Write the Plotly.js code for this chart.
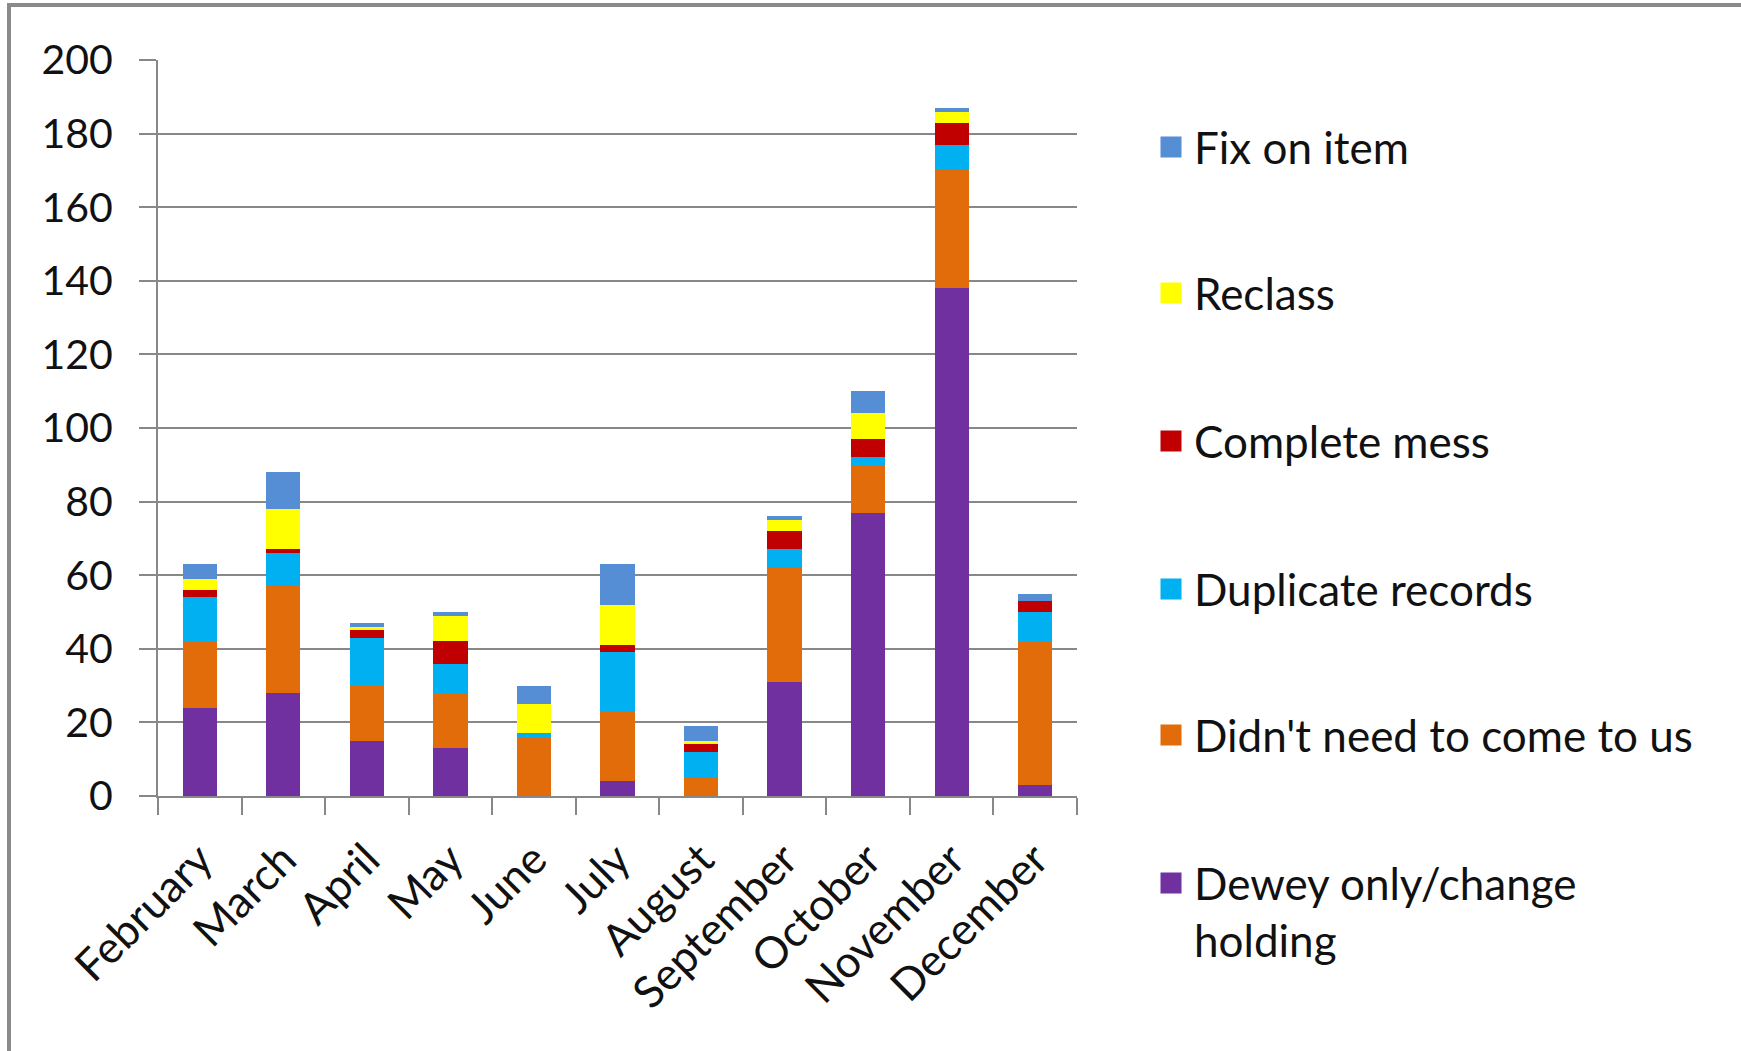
<!DOCTYPE html>
<html>
<head>
<meta charset="utf-8">
<script src="https://cdn.plot.ly/plotly-3.0.1.min.js"></script>
<style>
  html, body { margin: 0; padding: 0; background: #fff; }
  #wrap { position: relative; width: 1741px; height: 1051px; overflow: hidden; }
  #chart { position: absolute; left: 0; top: 0; width: 1741px; height: 1051px; }
  #frame { position: absolute; left: 7px; top: 3px; width: 1800px; height: 1100px;
           border-left: 4px solid #8a8a8a; border-top: 4px solid #8a8a8a; pointer-events: none; }
</style>
</head>
<body>
<div id="wrap">
  <div id="chart"></div>
  <div id="frame"></div>
</div>
<script>
const months = ["February", "March", "April", "May", "June", "July", "August", "September", "October", "November", "December"];
const dewey     = [24, 28, 15, 13, 0, 4, 0, 31, 77, 138, 3];
const didntNeed = [18, 29, 15, 15, 16, 19, 5, 31, 13, 32, 39];
const duplicate = [12, 9, 13, 8, 1, 16, 7, 5, 2, 7, 8];
const mess      = [2, 1, 2, 6, 0, 2, 2, 5, 5, 6, 3];
const reclass   = [3, 11, 1, 7, 8, 11, 1, 3, 7, 3, 0];
const fixOnItem = [4, 10, 1, 1, 5, 11, 4, 1, 6, 1, 2];

const seriesNames = ["Dewey only/change<br>holding", "Didn't need to come to us", "Duplicate records", "Complete mess", "Reclass", "Fix on item"];
const seriesValues = [dewey, didntNeed, duplicate, mess, reclass, fixOnItem];
const seriesColors = ["#7030A0", "#E36C0A", "#00B0F0", "#C00000", "#FFFF00", "#558ED5"];

const FONT = "Lato, 'Open Sans', 'DejaVu Sans', sans-serif";

const traces = [];
// stacked bars (bottom to top)
seriesValues.forEach((vals, i) => {
  traces.push({
    type: "bar",
    x: months,
    y: vals,
    name: seriesNames[i],
    marker: { color: seriesColors[i], line: { width: 0 } },
    showlegend: false,
    hoverinfo: "x+y+name"
  });
});

// one legend per series, top to bottom: Fix on item ... Dewey
const legendCenters = [148, 294, 442, 590, 736, 884];
const layoutLegends = {};
for (let k = 0; k < seriesNames.length; k++) {
  const i = seriesNames.length - 1 - k;
  const legId = k === 0 ? "legend" : "legend" + (k + 1);
  traces.push({
    type: "scatter",
    mode: "markers",
    x: [null],
    y: [null],
    name: seriesNames[i],
    legend: legId,
    marker: { symbol: "square", size: 16, color: seriesColors[i], line: { color: seriesColors[i], width: 5 } },
    showlegend: true,
    hoverinfo: "skip"
  });
  layoutLegends[legId] = {
    xref: "container",
    yref: "container",
    x: 1148 / 1741,
    y: 1 - (legendCenters[k] - 36) / 1051,
    xanchor: "left",
    yanchor: "top",
    valign: "top",
    itemwidth: 36,
    bgcolor: "rgba(0,0,0,0)",
    font: { family: FONT, size: 44, color: "#111111" }
  };
}

const layout = Object.assign({
  width: 1741,
  height: 1051,
  paper_bgcolor: "#ffffff",
  plot_bgcolor: "#ffffff",
  margin: { l: 158, r: 664, t: 60, b: 255, pad: 0 },
  barmode: "stack",
  bargap: 0.59,
  showlegend: true,
  font: { family: FONT, size: 41, color: "#111111" },
  xaxis: {
    type: "category",
    tickson: "boundaries",
    ticks: "outside",
    ticklen: 17,
    tickwidth: 2,
    tickcolor: "#888888",
    showline: true,
    linecolor: "#888888",
    linewidth: 2,
    showgrid: false,
    zeroline: false,
    tickangle: -45,
    ticklabelstandoff: 18,
    tickfont: { family: FONT, size: 44, color: "#111111" }
  },
  yaxis: {
    range: [0, 200],
    tickvals: [0, 20, 40, 60, 80, 100, 120, 140, 160, 180, 200],
    ticktext: ["0", "20", "40", "60", "80", "100", "120", "140", "160", "180", "200"],
    ticks: "outside",
    ticklen: 17,
    tickwidth: 2,
    tickcolor: "#888888",
    showline: true,
    linecolor: "#888888",
    linewidth: 2,
    showgrid: true,
    gridcolor: "#888888",
    gridwidth: 2,
    zeroline: false,
    ticklabelstandoff: 18,
    tickfont: { family: FONT, size: 41, color: "#111111" }
  }
}, layoutLegends);

Plotly.newPlot("chart", traces, layout, { displayModeBar: false, staticPlot: true });
</script>
</body>
</html>
